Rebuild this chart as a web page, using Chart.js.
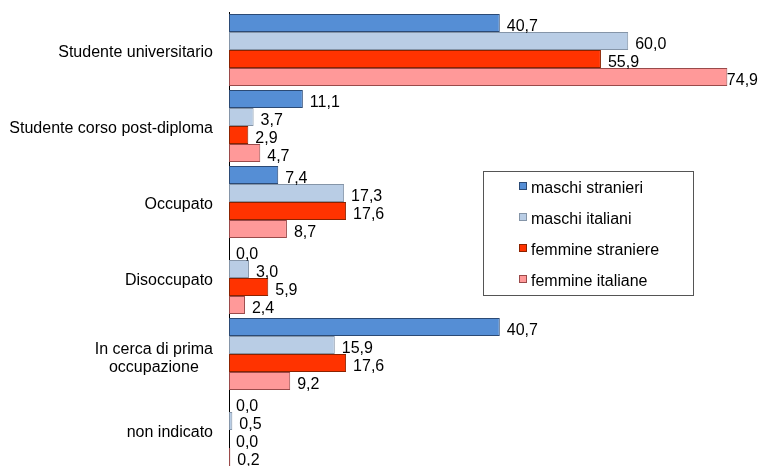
<!DOCTYPE html>
<html>
<head>
<meta charset="utf-8">
<script src="https://cdn.jsdelivr.net/npm/chart.js@4/dist/chart.umd.min.js"></script>
<style>
  html, body { margin: 0; padding: 0; background: #fff; overflow: hidden; }
  #wrap { position: relative; width: 760px; height: 466px; overflow: hidden; }
  #chart { position: absolute; left: 0; top: 0; }
</style>
</head>
<body>
<div id="wrap"><canvas id="chart" width="760" height="470"></canvas></div>
<script>
// categories (multi-line label as array)
var categories = [
  "Studente universitario",
  "Studente corso post-diploma",
  "Occupato",
  "Disoccupato",
  ["In cerca di prima", "occupazione"],
  "non indicato"
];
var seriesNames = ["maschi stranieri", "maschi italiani", "femmine straniere", "femmine italiane"];
var maschiStranieri = [40.7, 11.1, 7.4, 0.0, 40.7, 0.0];
var maschiItaliani = [60.0, 3.7, 17.3, 3.0, 15.9, 0.5];
var femmineStraniere = [55.9, 2.9, 17.6, 5.9, 17.6, 0.0];
var femmineItaliane = [74.9, 4.7, 8.7, 2.4, 9.2, 0.2];

var fills = ["#558ED5", "#B9CDE5", "#FF3300", "#FF9999"];
var borders = ["#2B4A75", "#8595A8", "#8B2200", "#9A4A4A"];
var FONT = "16px 'Liberation Sans', Arial, sans-serif";

function mkSet(i, data) {
  return {
    label: seriesNames[i],
    data: data,
    backgroundColor: fills[i],
    borderColor: borders[i],
    borderWidth: function (c) { return c.raw === 0 ? 0 : 1; },
    borderSkipped: false,
    categoryPercentage: 72 / 76,
    barPercentage: 1.0
  };
}

// value labels next to each bar
var valueLabels = {
  id: 'valueLabels',
  afterDatasetsDraw: function (chart) {
    var ctx = chart.ctx;
    ctx.save();
    ctx.font = FONT;
    ctx.fillStyle = '#000';
    ctx.textAlign = 'left';
    ctx.textBaseline = 'middle';
    chart.data.datasets.forEach(function (ds, i) {
      chart.getDatasetMeta(i).data.forEach(function (bar, j) {
        var txt = ds.data[j].toFixed(1).replace('.', ',');
        var w = ctx.measureText(txt).width;
        var x = bar.x + 7;
        if (x + w > 758) x = 758 - w;
        ctx.fillText(txt, x, bar.y + 4);
      });
    });
    ctx.restore();
  }
};

// category labels: single lines right aligned, multi-line centred as a block
var catLabels = {
  id: 'catLabels',
  afterDraw: function (chart) {
    var ctx = chart.ctx;
    var y = chart.scales.y;
    var right = chart.chartArea.left - 16;
    ctx.save();
    ctx.font = FONT;
    ctx.fillStyle = '#000';
    ctx.textBaseline = 'middle';
    categories.forEach(function (lab, i) {
      var cy = y.getPixelForValue(i);
      if (Array.isArray(lab)) {
        var mw = 0;
        lab.forEach(function (l) { mw = Math.max(mw, ctx.measureText(l).width); });
        ctx.textAlign = 'center';
        var lh = 18;
        var y0 = cy + 5 - (lab.length - 1) * lh / 2;
        lab.forEach(function (l, k) { ctx.fillText(l, right - mw / 2, y0 + k * lh); });
      } else {
        ctx.textAlign = 'right';
        ctx.fillText(lab, right, cy + 3);
      }
    });
    ctx.restore();
  }
};

// boxed legend inside the plot
var boxLegend = {
  id: 'boxLegend',
  afterDraw: function (chart) {
    var ctx = chart.ctx;
    ctx.save();
    ctx.strokeStyle = '#555';
    ctx.lineWidth = 1;
    ctx.strokeRect(483.5, 171.5, 210, 124);
    ctx.font = FONT;
    ctx.textAlign = 'left';
    ctx.textBaseline = 'middle';
    chart.data.datasets.forEach(function (ds, i) {
      var cy = 188 + i * 31;
      ctx.fillStyle = fills[i];
      ctx.fillRect(519, cy - 6, 8, 8);
      ctx.strokeStyle = borders[i];
      ctx.strokeRect(519.5, cy - 5.5, 7, 7);
      ctx.fillStyle = '#000';
      ctx.fillText(ds.label, 531, cy + 1);
    });
    ctx.restore();
  }
};

new Chart(document.getElementById('chart'), {
  type: 'bar',
  data: {
    labels: categories,
    datasets: [
      mkSet(0, maschiStranieri),
      mkSet(1, maschiItaliani),
      mkSet(2, femmineStraniere),
      mkSet(3, femmineItaliane)
    ]
  },
  options: {
    indexAxis: 'y',
    responsive: false,
    animation: false,
    layout: { padding: { top: 12, bottom: 2, right: 32, left: 0 } },
    plugins: { legend: { display: false }, tooltip: { enabled: false } },
    scales: {
      x: { display: false, min: 0, max: 75 },
      y: {
        ticks: { display: false },
        grid: { display: false, drawTicks: false },
        border: { display: true, color: '#000', width: 1 },
        afterFit: function (s) { s.width = 229; }
      }
    }
  },
  plugins: [valueLabels, catLabels, boxLegend]
});
</script>
</body>
</html>
